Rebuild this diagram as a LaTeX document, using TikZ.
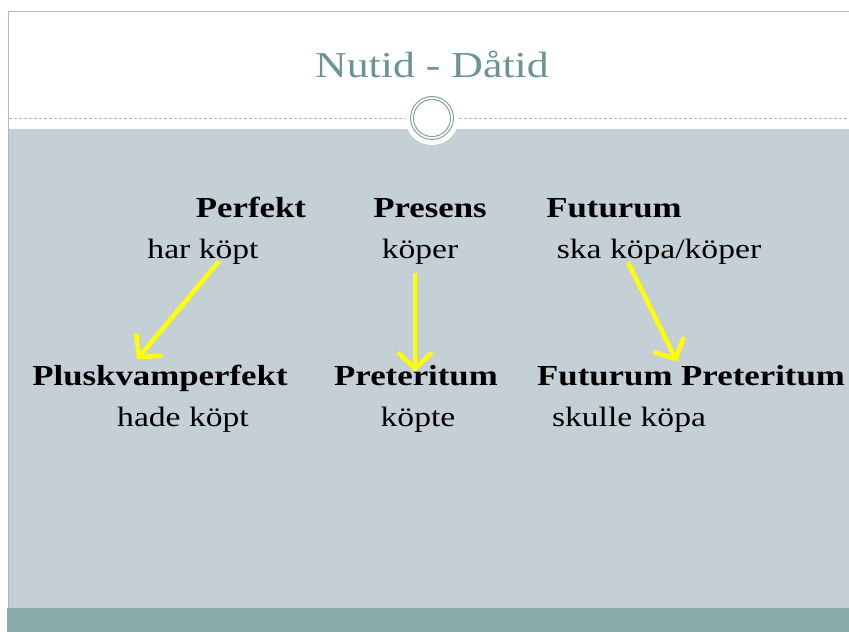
\documentclass[tikz,border=0pt]{standalone}
\usepackage{fontspec}
\setmainfont{Liberation Serif}[FakeStretch=1.2]
\usetikzlibrary{arrows.meta}
\definecolor{slgray}{RGB}{197,208,214}
\definecolor{slteal}{RGB}{138,172,172}
\definecolor{sltitle}{RGB}{108,148,148}
\definecolor{slring}{RGB}{120,152,152}
\definecolor{slborder}{RGB}{178,186,188}
\definecolor{slyellow}{RGB}{255,255,0}

\begin{document}
\begin{tikzpicture}[x=1pt, y=-1pt,
  term/.style={font=\fontsize{29}{33}\selectfont\bfseries, anchor=base, inner sep=0pt},
  form/.style={font=\fontsize{28}{32}\selectfont, anchor=base, inner sep=0pt},
  tensearrow/.style={slyellow, line width=4.5pt, -{Straight Barb[length=16pt,width=34pt]}}]
  \useasboundingbox (0,0) rectangle (849,632);
  % slide background
  \fill[white] (0,0) rectangle (849,632);
  \fill[slgray] (8,129) rectangle (849,608);
  \fill[slteal] (7,608) rectangle (849,632);
  \draw[slborder] (849,11) -- (8.5,11) -- (8.5,608);
  \draw[slborder, densely dashed, thin] (8.5,118) -- (849,118);
  \fill[white] (432,118) circle (27pt);
  \draw[slring, line width=1pt, double=white, double distance=1.8pt] (432,118) circle (20pt);
  \node[sltitle, font=\fontsize{36.5}{40}\selectfont, anchor=base] (title) at (432,77) {Nutid - Dåtid};

  % tenses
  \node[term] (perfekt) at (251,217) {Perfekt};
  \node[form] (harkopt) at (203,258) {har köpt};
  \node[term] (presens) at (430,217) {Presens};
  \node[form] (koper) at (420,258) {köper};
  \node[term] (futurum) at (614,217) {Futurum};
  \node[form] (skakopa) at (659,258) {ska köpa/köper};
  \node[term] (plusk) at (160,385) {Pluskvamperfekt};
  \node[form] (hadekopt) at (183,426) {hade köpt};
  \node[term] (preteritum) at (416,385) {Preteritum};
  \node[form] (kopte) at (418,426) {köpte};
  \node[term] (futpret) at (691,385) {Futurum Preteritum};
  \node[form] (skullekopa) at (629,426) {skulle köpa};

  % arrows
  \draw[tensearrow] ([xshift=16pt,yshift=3pt]harkopt.south) -- ([xshift=-23pt,yshift=5pt]plusk.north);
  \draw[tensearrow] ([xshift=-5pt,yshift=-9pt]koper.south) -- ([xshift=-1pt,yshift=-7pt]preteritum.north);
  \draw[tensearrow] ([xshift=-31pt,yshift=2pt]skakopa.south) -- ([xshift=-14pt,yshift=3pt]futpret.north);
\end{tikzpicture}
\end{document}
